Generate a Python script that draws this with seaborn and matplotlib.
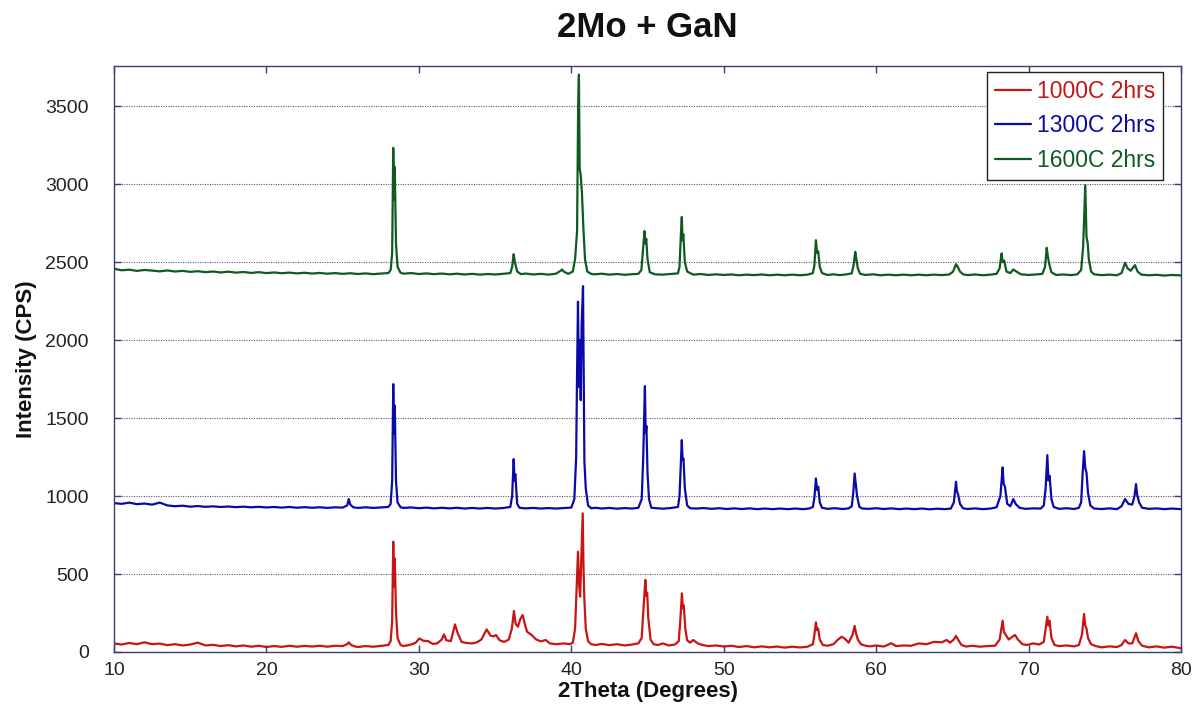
import matplotlib
matplotlib.use("Agg")
import matplotlib.pyplot as plt
import seaborn as sns
import pandas as pd
from matplotlib.lines import Line2D

# ---------------- data ----------------
series_names = ["1000C 2hrs", "1300C 2hrs", "1600C 2hrs"]
series_colors = ["#c81414", "#0a0aa8", "#0f5a23"]

red_pts = [
    (10.0, 55), (10.5, 48), (11.0, 58), (11.5, 50), (12.0, 62), (12.5, 50), (13.0, 54), (13.5, 44),
    (14.0, 50), (14.5, 42), (15.0, 48), (15.5, 60), (16.0, 42), (16.5, 46), (17.0, 38), (17.5, 44),
    (18.0, 36), (18.5, 42), (19.0, 34), (19.5, 40), (20.0, 32), (20.5, 38), (21.0, 33), (21.5, 40),
    (22.0, 34), (22.5, 39), (23.0, 35), (23.5, 40), (24.0, 34), (24.5, 40), (25.0, 38), (25.3, 50),
    (25.4, 62), (25.55, 45), (25.8, 36), (26.0, 32), (26.5, 38), (27.0, 34), (27.5, 39), (28.0, 45),
    (28.15, 70), (28.25, 200), (28.32, 707), (28.38, 420), (28.42, 600), (28.5, 260), (28.6, 90), (28.8, 45),
    (29.0, 38), (29.5, 48), (29.8, 60), (30.03, 87), (30.3, 72), (30.6, 70), (30.9, 52), (31.2, 55),
    (31.5, 80), (31.65, 113), (31.8, 75), (32.1, 70), (32.37, 177), (32.55, 120), (32.8, 65), (33.1, 58),
    (33.5, 55), (33.8, 62), (34.1, 80), (34.45, 145), (34.7, 105), (34.9, 100), (35.06, 109), (35.3, 75),
    (35.6, 65), (35.9, 80), (36.1, 150), (36.24, 263), (36.35, 180), (36.5, 162), (36.65, 210), (36.81, 237),
    (36.95, 180), (37.1, 130), (37.4, 109), (37.7, 80), (38.0, 68), (38.32, 77), (38.6, 55), (39.0, 50),
    (39.5, 55), (39.9, 50), (40.1, 60), (40.25, 150), (40.35, 400), (40.44, 643), (40.52, 420), (40.58, 355),
    (40.66, 600), (40.75, 889), (40.8, 550), (40.86, 333), (40.95, 150), (41.1, 70), (41.3, 50), (41.6, 45),
    (42.0, 52), (42.5, 44), (43.0, 50), (43.5, 42), (44.0, 48), (44.4, 55), (44.62, 90), (44.75, 300),
    (44.86, 462), (44.92, 360), (44.98, 380), (45.05, 220), (45.2, 80), (45.4, 50), (45.7, 45), (46.0, 55),
    (46.4, 42), (46.8, 48), (47.05, 70), (47.15, 200), (47.26, 376), (47.32, 280), (47.38, 300), (47.48, 150),
    (47.6, 75), (47.8, 60), (48.0, 77), (48.3, 55), (48.6, 45), (49.0, 38), (49.5, 42), (50.0, 35),
    (50.5, 40), (51.0, 32), (51.5, 38), (52.0, 30), (52.5, 36), (53.0, 30), (53.5, 35), (54.0, 28),
    (54.5, 34), (55.0, 29), (55.5, 34), (55.85, 50), (55.95, 110), (56.05, 190), (56.12, 140), (56.2, 150),
    (56.3, 80), (56.5, 45), (56.8, 40), (57.2, 50), (57.5, 80), (57.74, 98), (57.95, 85), (58.2, 60),
    (58.45, 110), (58.59, 167), (58.68, 120), (58.8, 80), (59.0, 50), (59.3, 40), (59.6, 36), (60.0, 42),
    (60.5, 35), (61.0, 56), (61.3, 38), (61.8, 42), (62.3, 40), (62.8, 55), (63.3, 50), (63.8, 65),
    (64.3, 62), (64.63, 77), (64.85, 60), (65.1, 80), (65.24, 103), (65.4, 75), (65.6, 45), (65.9, 35),
    (66.3, 40), (66.8, 34), (67.3, 38), (67.8, 40), (68.1, 80), (68.3, 201), (68.38, 130), (68.5, 110),
    (68.7, 80), (68.9, 95), (69.11, 109), (69.3, 80), (69.6, 50), (69.9, 45), (70.3, 55), (70.7, 48),
    (71.0, 65), (71.12, 150), (71.23, 226), (71.3, 170), (71.38, 200), (71.5, 90), (71.7, 45), (72.0, 38),
    (72.5, 42), (73.0, 36), (73.3, 45), (73.5, 110), (73.64, 244), (73.72, 170), (73.8, 150), (73.9, 90),
    (74.1, 50), (74.4, 38), (74.8, 30), (75.3, 36), (75.8, 32), (76.1, 45), (76.33, 77), (76.55, 55),
    (76.8, 55), (76.95, 95), (77.05, 120), (77.2, 70), (77.45, 40), (77.9, 30), (78.4, 36), (78.9, 28),
    (79.4, 34), (80.0, 24),
]

blue_pts = [
    (10.0, 955), (10.5, 950), (11.0, 958), (11.5, 948), (12.0, 952), (12.5, 945), (13.0, 958), (13.5, 940),
    (14.0, 935), (14.5, 938), (15.0, 932), (15.5, 936), (16.0, 931), (16.5, 934), (17.0, 930), (17.5, 933),
    (18.0, 929), (18.5, 932), (19.0, 928), (19.5, 931), (20.0, 927), (20.5, 930), (21.0, 926), (21.5, 930),
    (22.0, 925), (22.5, 929), (23.0, 925), (23.5, 928), (24.0, 924), (24.5, 928), (25.0, 926), (25.3, 940),
    (25.4, 981), (25.5, 945), (25.7, 928), (26.0, 924), (26.5, 928), (27.0, 924), (27.5, 927), (28.0, 930),
    (28.15, 950), (28.25, 1100), (28.32, 1718), (28.38, 1400), (28.42, 1580), (28.5, 1100), (28.6, 960), (28.8, 928),
    (29.0, 924), (29.5, 927), (30.0, 922), (30.5, 926), (31.0, 921), (31.5, 925), (32.0, 921), (32.5, 925),
    (33.0, 920), (33.5, 924), (34.0, 920), (34.5, 924), (35.0, 920), (35.5, 923), (36.0, 930), (36.12, 1000),
    (36.22, 1237), (36.28, 1100), (36.33, 1140), (36.45, 950), (36.6, 925), (37.0, 921), (37.5, 924), (38.0, 920),
    (38.5, 923), (39.0, 920), (39.5, 923), (40.0, 926), (40.2, 980), (40.32, 1250), (40.38, 1800), (40.44, 2246),
    (40.5, 1700), (40.56, 2000), (40.62, 1615), (40.68, 2100), (40.77, 2346), (40.82, 1700), (40.86, 1220), (40.95, 1050),
    (41.1, 940), (41.3, 922), (41.6, 925), (42.0, 920), (42.5, 924), (43.0, 919), (43.5, 923), (44.0, 920),
    (44.4, 925), (44.62, 980), (44.72, 1250), (44.78, 1500), (44.83, 1705), (44.88, 1404), (44.93, 1450), (45.0, 1150),
    (45.1, 980), (45.25, 925), (45.6, 922), (46.0, 919), (46.5, 923), (47.0, 930), (47.1, 1000), (47.2, 1250),
    (47.25, 1359), (47.3, 1231), (47.36, 1240), (47.45, 1050), (47.6, 940), (47.8, 922), (48.2, 920), (48.7, 923),
    (49.2, 918), (49.7, 922), (50.2, 917), (50.7, 921), (51.2, 917), (51.7, 921), (52.2, 916), (52.7, 920),
    (53.2, 916), (53.7, 920), (54.2, 916), (54.7, 920), (55.2, 916), (55.6, 920), (55.85, 930), (55.95, 990),
    (56.05, 1113), (56.12, 1040), (56.2, 1060), (56.3, 960), (56.45, 925), (56.8, 918), (57.3, 922), (57.8, 917),
    (58.2, 921), (58.4, 935), (58.5, 1020), (58.59, 1145), (58.66, 1080), (58.75, 1000), (58.9, 930), (59.1, 920),
    (59.5, 918), (60.0, 922), (60.5, 917), (61.0, 921), (61.5, 916), (62.0, 920), (62.5, 916), (63.0, 920),
    (63.5, 915), (64.0, 919), (64.5, 916), (64.9, 920), (65.1, 960), (65.24, 1092), (65.3, 1030), (65.38, 1010),
    (65.5, 950), (65.7, 922), (66.0, 917), (66.5, 921), (67.0, 916), (67.5, 920), (67.9, 928), (68.15, 1000),
    (68.3, 1184), (68.36, 1080), (68.45, 1060), (68.6, 950), (68.8, 935), (69.0, 981), (69.15, 950), (69.4, 925),
    (69.8, 918), (70.3, 921), (70.8, 920), (71.0, 940), (71.12, 1050), (71.23, 1263), (71.3, 1100), (71.38, 1130),
    (71.5, 980), (71.65, 930), (72.0, 918), (72.5, 922), (73.0, 917), (73.3, 925), (73.45, 960), (73.55, 1150),
    (73.64, 1288), (73.72, 1180), (73.8, 1150), (73.9, 1020), (74.05, 940), (74.3, 920), (74.8, 917), (75.3, 921),
    (75.8, 916), (76.1, 935), (76.33, 981), (76.55, 950), (76.8, 945), (76.95, 1000), (77.05, 1077), (77.12, 1010),
    (77.25, 960), (77.45, 925), (77.9, 918), (78.4, 921), (78.9, 916), (79.4, 920), (80.0, 916),
]

green_pts = [
    (10.0, 2458), (10.5, 2448), (11.0, 2452), (11.5, 2444), (12.0, 2450), (12.5, 2446), (13.0, 2441), (13.5, 2447),
    (14.0, 2440), (14.5, 2444), (15.0, 2438), (15.5, 2442), (16.0, 2436), (16.5, 2440), (17.0, 2434), (17.5, 2439),
    (18.0, 2433), (18.5, 2437), (19.0, 2431), (19.5, 2436), (20.0, 2430), (20.5, 2434), (21.0, 2429), (21.5, 2433),
    (22.0, 2428), (22.5, 2432), (23.0, 2427), (23.5, 2431), (24.0, 2426), (24.5, 2430), (25.0, 2425), (25.5, 2429),
    (26.0, 2424), (26.5, 2428), (27.0, 2423), (27.5, 2427), (28.0, 2430), (28.15, 2450), (28.25, 2560), (28.32, 3233),
    (28.38, 2900), (28.42, 3111), (28.5, 2620), (28.6, 2470), (28.8, 2432), (29.0, 2426), (29.5, 2430), (30.0, 2424),
    (30.5, 2428), (31.0, 2423), (31.5, 2427), (32.0, 2422), (32.5, 2426), (33.0, 2421), (33.5, 2425), (34.0, 2420),
    (34.5, 2424), (35.0, 2421), (35.5, 2425), (36.0, 2430), (36.12, 2470), (36.22, 2551), (36.3, 2500), (36.45, 2440),
    (36.7, 2423), (37.0, 2427), (37.5, 2421), (38.0, 2425), (38.5, 2420), (39.0, 2426), (39.3, 2445), (39.4, 2453),
    (39.5, 2440), (39.8, 2425), (40.1, 2440), (40.25, 2520), (40.38, 2700), (40.45, 3495), (40.5, 3703), (40.55, 3100),
    (40.62, 3058), (40.7, 2942), (40.8, 2705), (40.9, 2520), (41.05, 2440), (41.3, 2425), (41.5, 2422), (42.0, 2426),
    (42.5, 2420), (43.0, 2424), (43.5, 2419), (44.0, 2423), (44.4, 2425), (44.6, 2450), (44.72, 2600), (44.8, 2699),
    (44.86, 2620), (44.92, 2650), (45.0, 2520), (45.15, 2435), (45.5, 2422), (46.0, 2420), (46.5, 2424), (47.0, 2428),
    (47.1, 2470), (47.2, 2700), (47.25, 2790), (47.3, 2640), (47.35, 2680), (47.45, 2500), (47.6, 2440), (48.0, 2420),
    (48.5, 2424), (49.0, 2418), (49.5, 2422), (50.0, 2418), (50.5, 2421), (51.0, 2416), (51.5, 2420), (52.0, 2417),
    (52.5, 2421), (53.0, 2416), (53.5, 2420), (54.0, 2416), (54.5, 2420), (55.0, 2416), (55.5, 2420), (55.85, 2430),
    (55.95, 2480), (56.05, 2641), (56.12, 2560), (56.2, 2570), (56.3, 2470), (56.45, 2430), (56.8, 2418), (57.2, 2422),
    (57.6, 2417), (58.0, 2421), (58.4, 2428), (58.52, 2480), (58.63, 2566), (58.7, 2520), (58.8, 2460), (58.95, 2425),
    (59.3, 2418), (59.8, 2422), (60.3, 2416), (60.8, 2420), (61.3, 2416), (61.8, 2420), (62.3, 2416), (62.8, 2420),
    (63.3, 2416), (63.8, 2420), (64.3, 2417), (64.8, 2421), (65.05, 2440), (65.24, 2487), (65.35, 2470), (65.5, 2440),
    (65.7, 2422), (66.0, 2417), (66.5, 2421), (67.0, 2416), (67.5, 2420), (67.9, 2425), (68.1, 2460), (68.23, 2556),
    (68.3, 2500), (68.4, 2510), (68.55, 2440), (68.8, 2430), (69.0, 2453), (69.2, 2440), (69.5, 2422), (70.0, 2418),
    (70.5, 2421), (70.9, 2425), (71.08, 2470), (71.19, 2592), (71.26, 2540), (71.35, 2490), (71.5, 2435), (71.8, 2418),
    (72.3, 2421), (72.8, 2417), (73.2, 2422), (73.45, 2450), (73.58, 2600), (73.65, 2800), (73.72, 2994), (73.8, 2662),
    (73.88, 2622), (73.95, 2520), (74.1, 2440), (74.3, 2422), (74.8, 2417), (75.3, 2420), (75.8, 2416), (76.1, 2430),
    (76.33, 2496), (76.5, 2460), (76.7, 2445), (76.98, 2481), (77.15, 2440), (77.4, 2420), (77.9, 2416), (78.4, 2419),
    (78.9, 2414), (79.4, 2418), (80.0, 2415),
]

x_ticks = [10, 20, 30, 40, 50, 60, 70, 80]
y_ticks = [0, 500, 1000, 1500, 2000, 2500, 3000, 3500]

title_text = "2Mo + GaN"
x_label = "2Theta (Degrees)"
y_label = "Intensity (CPS)"

# ---------------- build long-form table ----------------
frames = []
for name, pts in zip(series_names, [red_pts, blue_pts, green_pts]):
    frames.append(pd.DataFrame({"theta": [p[0] for p in pts],
                                "cps": [p[1] for p in pts],
                                "series": name}))
df = pd.concat(frames, ignore_index=True)

# ---------------- style ----------------
sns.set_theme(style="white")
plt.rcParams["font.family"] = ["Liberation Sans", "DejaVu Sans"]

spine_col = "#3c3c78"

fig = plt.figure(figsize=(11.98, 7.13), dpi=100)
ax = fig.add_axes([114 / 1198, 61 / 713, 1067 / 1198, 586 / 713])

sns.lineplot(data=df, x="theta", y="cps", hue="series", hue_order=series_names,
             palette=series_colors, estimator=None, sort=False, linewidth=1.6,
             legend=False, ax=ax)

ax.set_xlim(10, 80)
ax.set_ylim(0, 3758)
ax.set_xticks(x_ticks)
ax.set_yticks(y_ticks)

ax.yaxis.grid(True, linestyle=(0, (1, 1.2)), color="#5a5a80", linewidth=0.8)
ax.xaxis.grid(False)

for s in ax.spines.values():
    s.set_visible(True)
    s.set_color(spine_col)
    s.set_linewidth(1.0)

ax.tick_params(axis="both", which="major", direction="in", length=5, width=1,
               color=spine_col, labelsize=14, labelcolor="#222222",
               top=True, right=True, bottom=True, left=True)
ax.tick_params(axis="x", pad=7)
ax.tick_params(axis="y", pad=18)

ax.set_title(title_text, fontsize=25, fontweight="bold", pad=21, color="#111111")
ax.set_xlabel(x_label, fontsize=16, fontweight="bold", color="#111111")
ax.set_ylabel(y_label, fontsize=16, fontweight="bold", color="#111111")
ax.xaxis.set_label_coords(0.5, -0.05)
ax.yaxis.set_label_coords(-0.072, 0.5)

handles = [Line2D([0], [0], color=c, lw=1.6) for c in series_colors]
leg = ax.legend(handles, series_names, loc="upper right",
                bbox_to_anchor=(0.9831, 0.9898), borderaxespad=0,
                frameon=True, fancybox=False, framealpha=1, edgecolor="#222222",
                fontsize=16.5, handlelength=1.55, handletextpad=0.25,
                labelspacing=0.5, borderpad=0.35)
leg.get_frame().set_linewidth(1.0)
for txt, c in zip(leg.get_texts(), series_colors):
    txt.set_color(c)

fig.savefig("out.png", dpi=100)
